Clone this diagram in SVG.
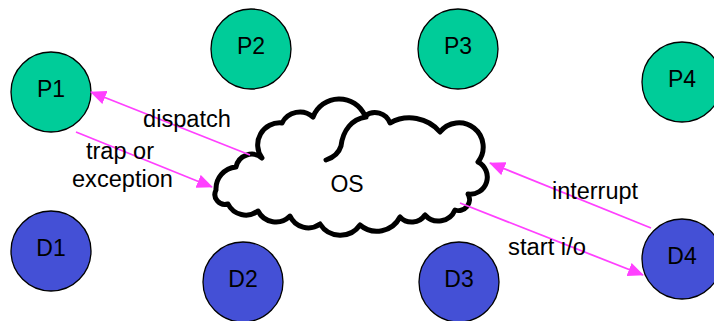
<svg xmlns="http://www.w3.org/2000/svg" width="714" height="321" viewBox="0 0 714 321">
<style>
.p{fill:#00CC99;stroke:#000;stroke-width:1.3}
.d{fill:#4450D6;stroke:#000;stroke-width:1.3}
.t{font-family:"Liberation Sans",Arial,sans-serif;font-size:23px;fill:#000}
.c{text-anchor:middle}
.a{stroke:#FF40FF;stroke-width:1.8;fill:none;marker-end:url(#ah)}
.cl{fill:#fff;stroke:#000;stroke-width:5;stroke-linejoin:round;stroke-linecap:round}
</style>
<defs>
<marker id="ah" markerUnits="userSpaceOnUse" markerWidth="16" markerHeight="14" refX="15" refY="7" orient="auto">
<path d="M0,0 L16,7 L0,14 Z" fill="#FF40FF"/>
</marker>
</defs>
<rect width="714" height="321" fill="#fff"/>
<g id="P1"><circle class="p" cx="51" cy="92" r="40"/><text class="t c" x="51" y="97">P1</text></g>
<g id="P2"><circle class="p" cx="251" cy="49" r="40"/><text class="t c" x="251" y="54">P2</text></g>
<g id="P3"><circle class="p" cx="458" cy="49" r="40"/><text class="t c" x="458" y="54">P3</text></g>
<g id="P4"><circle class="p" cx="682" cy="82" r="40"/><text class="t c" x="682" y="87">P4</text></g>
<g id="D1"><circle class="d" cx="51" cy="251" r="40"/><text class="t c" x="51" y="256">D1</text></g>
<g id="D2"><circle class="d" cx="243" cy="282" r="40"/><text class="t c" x="243" y="287">D2</text></g>
<g id="D3"><circle class="d" cx="459" cy="282" r="40"/><text class="t c" x="459" y="287">D3</text></g>
<g id="D4"><circle class="d" cx="682" cy="259" r="40"/><text class="t c" x="682" y="264">D4</text></g>
<g id="OS">
<path class="cl" d="M216,190 A22,22 0 0 1 236,167 A16,16 0 0 1 262,158 A22,22 0 0 1 282,123 A20,20 0 0 1 313,117 A28,28 0 0 1 365,116 A16,16 0 0 1 390,123 A40,40 0 0 1 440,132 A24,24 0 0 1 478,162 A17,17 0 0 1 468,194 A11,11 0 0 1 455,210 A18,18 0 0 1 425,215 A16,16 0 0 1 400,217 A26,26 0 0 1 360,225 A24,24 0 0 1 320,224 A20,20 0 0 1 290,216 A20,20 0 0 1 258,211 A20,20 0 0 1 228,204 A10,10 0 0 1 216,190 Z"/>
<path class="cl" fill="none" d="M326,160 Q338,156 341,146 C343,130 352,119 366,117"/>
<text class="t c" x="347" y="192">OS</text>
</g>
<g id="connectors">
<line class="a" x1="250" y1="155" x2="91" y2="92"/>
<line class="a" x1="76" y1="132" x2="212" y2="187"/>
<line class="a" x1="651" y1="228" x2="490" y2="163"/>
<line class="a" x1="460" y1="203" x2="643" y2="275"/>
<text class="t" x="143" y="127" textLength="88" lengthAdjust="spacingAndGlyphs">dispatch</text>
<text class="t" x="86" y="159" textLength="68" lengthAdjust="spacingAndGlyphs">trap or</text>
<text class="t" x="72" y="187" textLength="101" lengthAdjust="spacingAndGlyphs">exception</text>
<text class="t" x="552" y="199" textLength="86" lengthAdjust="spacingAndGlyphs">interrupt</text>
<text class="t" x="508" y="255" textLength="78" lengthAdjust="spacingAndGlyphs">start i/o</text>
</g>
</svg>
